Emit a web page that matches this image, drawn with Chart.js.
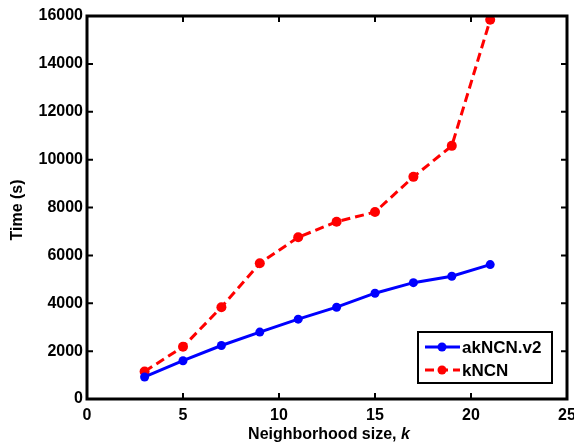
<!DOCTYPE html>
<html>
<head>
<meta charset="utf-8">
<script src="https://cdn.jsdelivr.net/npm/chart.js@4.4.0/dist/chart.umd.min.js"></script>
<style>
  html, body { margin: 0; padding: 0; background: #fff; }
  #wrap { width: 574px; height: 443px; }
</style>
</head>
<body>
<div id="wrap"><canvas id="chartTempo"></canvas></div>
<script>
// valores
let vizinhanca = [3, 5, 7, 9, 11, 13, 15, 17, 19, 21]
let tempoAkNCN = [920, 1600, 2235, 2795, 3335, 3835, 4420, 4860, 5130, 5615]
let tempoKNCN = [1150, 2180, 3835, 5670, 6755, 7405, 7810, 9280, 10575, 15840]

let ticksX = [0, 5, 10, 15, 20, 25]
let ticksY = [0, 2000, 4000, 6000, 8000, 10000, 12000, 14000, 16000]

const fonte = "Liberation Sans, Arial, sans-serif";

function pares(xs, ys) {
  return xs.map((x, i) => ({ x: x, y: ys[i] }));
}

// caixa preta + ticks para dentro (estilo matlab)
const caixaPlugin = {
  id: "caixa",
  afterDraw(chart) {
    let ctx = chart.ctx;
    let a = chart.chartArea;
    let sx = chart.scales.x;
    let sy = chart.scales.y;
    ctx.save();
    ctx.strokeStyle = "#000";
    ctx.lineWidth = 2;
    ticksX.forEach((v) => {
      let px = sx.getPixelForValue(v);
      ctx.beginPath();
      ctx.moveTo(px, a.bottom);
      ctx.lineTo(px, a.bottom - 6);
      ctx.moveTo(px, a.top);
      ctx.lineTo(px, a.top + 6);
      ctx.stroke();
    });
    ticksY.forEach((v) => {
      let py = sy.getPixelForValue(v);
      ctx.beginPath();
      ctx.moveTo(a.left, py);
      ctx.lineTo(a.left + 6, py);
      ctx.moveTo(a.right, py);
      ctx.lineTo(a.right - 6, py);
      ctx.stroke();
    });
    ctx.lineWidth = 3;
    ctx.strokeRect(a.left, a.top, a.right - a.left, a.bottom - a.top);

    // titulos dos eixos
    ctx.fillStyle = "#000";
    ctx.textBaseline = "alphabetic";
    let parte1 = "Neighborhood size, ";
    ctx.font = "bold 16px " + fonte;
    let w1 = ctx.measureText(parte1).width;
    ctx.font = "italic bold 16px " + fonte;
    let w2 = ctx.measureText("k").width;
    let x0 = (a.left + a.right) / 2 - (w1 + w2) / 2 + 2;
    ctx.font = "bold 16px " + fonte;
    ctx.textAlign = "left";
    ctx.fillText(parte1, x0, 439);
    ctx.font = "italic bold 16px " + fonte;
    ctx.fillText("k", x0 + w1, 439);

    ctx.translate(18, 210);
    ctx.rotate(-Math.PI / 2);
    ctx.font = "bold 16px " + fonte;
    ctx.textAlign = "center";
    ctx.textBaseline = "middle";
    ctx.fillText("Time (s)", 0, 0);
    ctx.restore();

    // legenda dentro da area
    ctx.save();
    let lx = 418, ly = 332, lw = 134, lh = 51;
    ctx.fillStyle = "#fff";
    ctx.fillRect(lx, ly, lw, lh);
    ctx.strokeStyle = "#000";
    ctx.lineWidth = 2;
    ctx.strokeRect(lx, ly, lw, lh);
    chart.data.datasets.forEach((ds, i) => {
      let cy = ly + 15 + i * 23;
      ctx.strokeStyle = ds.borderColor;
      ctx.lineWidth = ds.borderWidth;
      ctx.setLineDash(ds.borderDash || []);
      ctx.beginPath();
      ctx.moveTo(lx + 7, cy);
      ctx.lineTo(lx + 42, cy);
      ctx.stroke();
      ctx.setLineDash([]);
      ctx.fillStyle = ds.borderColor;
      ctx.beginPath();
      ctx.arc(lx + 24, cy, 4.5, 0, Math.PI * 2);
      ctx.fill();
      ctx.fillStyle = "#000";
      ctx.font = "bold 17px " + fonte;
      ctx.textAlign = "left";
      ctx.textBaseline = "middle";
      ctx.fillText(ds.label, lx + 44, cy + 1);
    });
    ctx.restore();
  },
};

new Chart(document.getElementById("chartTempo"), {
  type: "line",
  data: {
    datasets: [
      {
        label: "akNCN.v2",
        data: pares(vizinhanca, tempoAkNCN),
        borderColor: "#0000ff",
        backgroundColor: "#0000ff",
        borderWidth: 3,
        pointRadius: 4.5,
        pointBorderWidth: 0,
        tension: 0,
      },
      {
        label: "kNCN",
        data: pares(vizinhanca, tempoKNCN),
        borderColor: "#ff0000",
        backgroundColor: "#ff0000",
        borderWidth: 3,
        borderDash: [9, 5],
        pointRadius: 5,
        pointBorderWidth: 0,
        tension: 0,
      },
    ],
  },
  options: {
    responsive: true,
    maintainAspectRatio: false,
    animation: false,
    layout: { padding: { top: 16, right: 7, left: 0, bottom: 0 } },
    plugins: { legend: { display: false }, tooltip: { enabled: false } },
    scales: {
      x: {
        type: "linear",
        min: 0,
        max: 25,
        afterBuildTicks: (s) => { s.ticks = ticksX.map((v) => ({ value: v })); },
        afterFit: (s) => { s.height = 44; s.paddingRight = 0; s.paddingLeft = 0; },
        grid: { display: false, drawTicks: false },
        border: { display: false },
        ticks: {
          color: "#000",
          padding: 7,
          maxRotation: 0,
          font: { family: fonte, size: 16, weight: "bold" },
          callback: (v) => String(v),
        },
      },
      y: {
        type: "linear",
        min: 0,
        max: 16000,
        afterBuildTicks: (s) => { s.ticks = ticksY.map((v) => ({ value: v })); },
        afterFit: (s) => { s.width = 87; s.paddingTop = 0; s.paddingBottom = 0; },
        grid: { display: false, drawTicks: false },
        border: { display: false },
        ticks: {
          color: "#000",
          padding: 4,
          font: { family: fonte, size: 16, weight: "bold" },
          callback: (v) => String(v),
        },
      },
    },
  },
  plugins: [caixaPlugin],
});
</script>
</body>
</html>
